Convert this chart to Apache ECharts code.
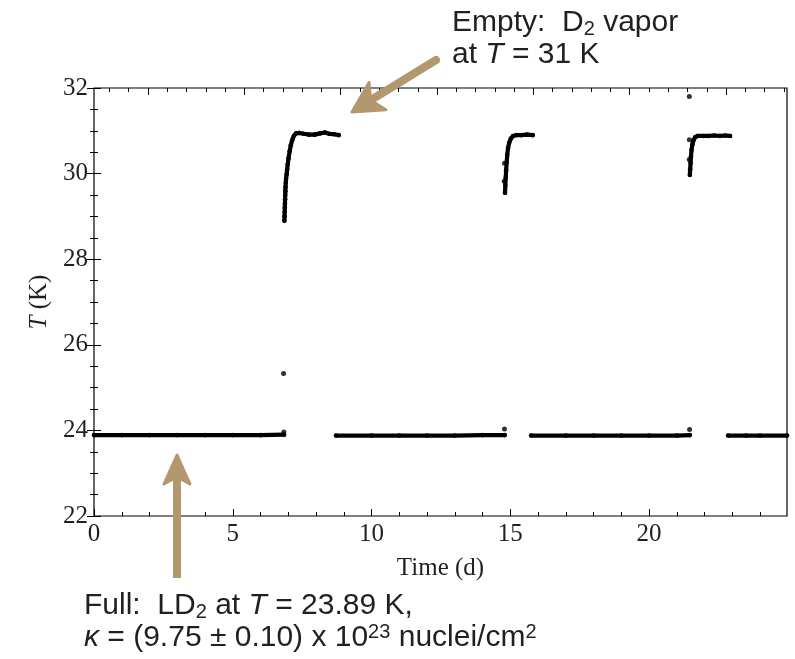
<!DOCTYPE html>
<html><head><meta charset="utf-8">
<script src="https://cdn.jsdelivr.net/npm/echarts@6/dist/echarts.min.js"></script>
<style>html,body{margin:0;padding:0;background:#fff}#c{width:795px;height:659px}</style>
</head><body><div id="c"></div>
<script>
// ---- tick labels ----
const xTicks = [0, 5, 10, 15, 20];
const xMinorTicks = [1,2,3,4,6,7,8,9,11,12,13,14,16,17,18,19,21,22,23,24];
const yTicks = [22, 24, 26, 28, 30, 32];
const yMinorTicks = [22.5,23,23.5,24.5,25,25.5,26.5,27,27.5,28.5,29,29.5,30.5,31,31.5];

// ---- data: time (d), T (K) ----
const fullRun1 = [[0,23.89],[1,23.89],[2,23.89],[3,23.89],[4,23.89],[5,23.89],[6,23.89],[6.85,23.90]];
const fullRun2 = [[8.72,23.88],[10,23.88],[11,23.88],[12,23.88],[13,23.88],[14,23.89],[14.80,23.89]];
const fullRun3 = [[15.75,23.88],[17,23.88],[18,23.88],[19,23.88],[20,23.88],[21,23.88],[21.47,23.89]];
const fullRun4 = [[22.85,23.88],[23.5,23.88],[24,23.88],[24.97,23.88]];

const emptyRun1 = [[6.86,28.90],[6.865,29.00],[6.87,29.10],[6.875,29.20],[6.88,29.30],[6.885,29.40],
  [6.89,29.50],[6.895,29.59],[6.90,29.68],[6.91,29.78],[6.92,29.88],[6.94,29.98],[6.96,30.10],
  [6.98,30.22],[7.01,30.36],[7.05,30.52],[7.09,30.66],[7.14,30.78],[7.20,30.88],[7.28,30.94],
  [7.40,30.95],[7.55,30.93],[7.75,30.91],[7.95,30.91],[8.15,30.94],[8.32,30.96],[8.47,30.93],
  [8.65,30.92],[8.82,30.90]];
const emptyRun2 = [[14.81,29.55],[14.82,29.72],[14.835,29.90],[14.85,30.08],[14.87,30.26],[14.89,30.44],
  [14.92,30.60],[14.96,30.72],[15.02,30.82],[15.10,30.88],[15.22,30.90],[15.40,30.90],[15.60,30.91],[15.81,30.90]];
const emptyRun3 = [[21.47,29.97],[21.48,30.10],[21.495,30.25],[21.51,30.40],[21.53,30.55],[21.56,30.68],
  [21.60,30.78],[21.66,30.85],[21.75,30.88],[21.95,30.88],[22.15,30.88],[22.35,30.89],[22.55,30.88],
  [22.75,30.89],[22.92,30.88]];
const strayPoints = [[6.83,25.33],[6.84,23.96],[14.79,24.03],[14.79,30.24],[14.78,29.82],
  [21.46,24.02],[21.45,31.80],[21.45,30.79],[21.45,30.33]];

// top frame ticks (own scale of the upper frame edge)
const topMinorTicks = [];
for (let k = 0; k <= 35; k++) topMinorTicks.push(+(0.8 + k).toFixed(2));
const topMajorTicks = topMinorTicks.filter((v, i) => i % 5 === 2);

const INK = '#231f20';
const TAN = '#B3976F';
const SERIF = '"Liberation Serif", "Times New Roman", serif';
const SANS = '"Liberation Sans", Arial, sans-serif';
const XMAX = 24.97;
const GRID = {left: 94, right: 8, top: 88, bottom: 143};

function runSeries(data) {
  return {
    type: 'line', data: data, xAxisIndex: 0, yAxisIndex: 0,
    symbol: 'circle', symbolSize: 4.6, showSymbol: true,
    itemStyle: {color: '#000'},
    lineStyle: {color: '#000', width: 4.2, cap: 'round', join: 'round'},
    emphasis: {disabled: true}, animation: false, clip: true, z: 3
  };
}

function tickAxis(grid, min, max, pos, vals, len, extra) {
  return Object.assign({
    type: 'value', position: pos, gridIndex: grid, min: min, max: max,
    axisLine: {show: false}, splitLine: {show: false},
    axisTick: {show: true, inside: true, length: len, customValues: vals, lineStyle: {color: '#000', width: 1}},
    axisLabel: {show: false}
  }, extra || {});
}

const chart = echarts.init(document.getElementById('c'), null, {renderer: 'canvas'});

chart.setOption({
  backgroundColor: '#fff',
  animation: false,
  grid: [
    Object.assign({show: true, borderColor: '#000', borderWidth: 1.2, backgroundColor: 'transparent'}, GRID),
    Object.assign({show: false}, GRID)
  ],
  xAxis: [
    tickAxis(0, 0, XMAX, 'bottom', xTicks, 7, {
      axisLabel: {show: true, customValues: xTicks, margin: 6, color: INK, fontFamily: SERIF, fontSize: 25},
      name: 'Time (d)', nameLocation: 'middle', nameGap: 40,
      nameTextStyle: {color: INK, fontFamily: SERIF, fontSize: 25}
    }),
    tickAxis(0, 0, 35.96, 'top', topMajorTicks, 7),
    tickAxis(1, 0, XMAX, 'bottom', xMinorTicks, 4),
    tickAxis(1, 0, 35.96, 'top', topMinorTicks, 4)
  ],
  yAxis: [
    tickAxis(0, 22, 32, 'left', yTicks, 7, {
      axisLabel: {show: true, customValues: yTicks, margin: 6, color: INK, fontFamily: SERIF, fontSize: 25},
      name: '{i|T} (K)', nameLocation: 'middle', nameGap: 42, nameRotate: 90,
      nameTextStyle: {color: INK, fontFamily: SERIF, fontSize: 25,
        rich: {i: {fontStyle: 'italic', fontFamily: SERIF, fontSize: 25, color: INK}}}
    }),
    tickAxis(0, 22, 32, 'right', yTicks, 7),
    tickAxis(1, 22, 32, 'left', yMinorTicks, 4),
    tickAxis(1, 22, 32, 'right', yMinorTicks, 4)
  ],
  series: [
    runSeries(fullRun1), runSeries(fullRun2), runSeries(fullRun3), runSeries(fullRun4),
    runSeries(emptyRun1), runSeries(emptyRun2), runSeries(emptyRun3),
    {type: 'scatter', data: strayPoints, xAxisIndex: 0, yAxisIndex: 0, symbol: 'circle', symbolSize: 5,
     itemStyle: {color: '#000'}, emphasis: {disabled: true}, animation: false, z: 4}
  ],
  graphic: [
    // top arrow
    {type: 'polyline', shape: {points: [[436, 60], [371, 100]]},
     style: {stroke: TAN, lineWidth: 8, lineCap: 'round', fill: null}, z: 10},
    {type: 'polygon', shape: {points: [[352, 112], [385.9, 109.8], [370.7, 100.4], [369.1, 82.6]]},
     style: {fill: TAN, stroke: TAN, lineWidth: 3, lineJoin: 'round'}, z: 10},
    // bottom arrow
    {type: 'polyline', shape: {points: [[177, 578], [177, 478]]},
     style: {stroke: TAN, lineWidth: 8, lineCap: 'butt', fill: null}, z: 10},
    {type: 'polygon', shape: {points: [[177, 455], [190, 484], [177, 477], [164, 484]]},
     style: {fill: TAN, stroke: TAN, lineWidth: 3, lineJoin: 'round'}, z: 10},
    // top annotation
    {type: 'text', x: 452, y: 7, z: 11,
     style: {text: 'Empty:  D{sub|2} vapor\nat {i|T} = 31 K', fill: INK, fontFamily: SANS, fontSize: 30, lineHeight: 32,
       rich: {
         sub: {fontFamily: SANS, fontSize: 20, fill: INK, verticalAlign: 'bottom', lineHeight: 16},
         i: {fontFamily: SANS, fontSize: 30, fontStyle: 'italic', fill: INK}
       }}},
    // bottom annotation
    {type: 'text', x: 84, y: 590, z: 11,
     style: {text: 'Full:  LD{sub|2} at {i|T} = 23.89 K,\n{i|κ} = (9.75 ± 0.10) x 10{sup|23} nuclei/cm{sup|2}', fill: INK,
       fontFamily: SANS, fontSize: 30, lineHeight: 32,
       rich: {
         sub: {fontFamily: SANS, fontSize: 20, fill: INK, verticalAlign: 'bottom', lineHeight: 16},
         sup: {fontFamily: SANS, fontSize: 20, fill: INK, verticalAlign: 'top', lineHeight: 18},
         i: {fontFamily: SANS, fontSize: 30, fontStyle: 'italic', fill: INK}
       }}}
  ]
});
</script></body></html>
